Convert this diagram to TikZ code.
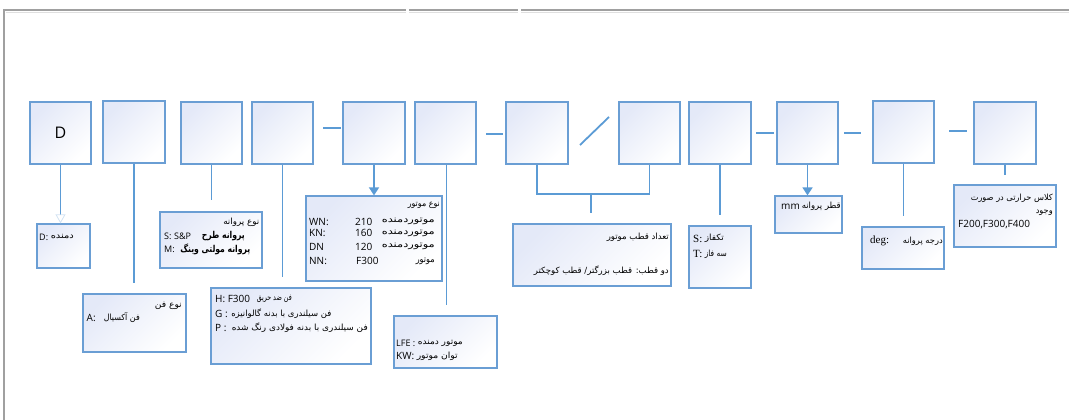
\documentclass[tikz,border=0pt]{standalone}
\usepackage{fontspec}
\setmainfont{Open Sans}
\newfontfamily\fafont[Script=Arabic]{DejaVu Sans}
\newfontfamily\serifL{Liberation Serif}
\TeXXeTstate=1
\usetikzlibrary{arrows.meta,calc}
\newcommand{\fw}[2]{\resizebox{#1pt}{\height}{#2}}
\definecolor{boxline}{RGB}{106,158,212}
\definecolor{connline}{RGB}{91,155,213}
\definecolor{boxfill}{RGB}{228,233,248}
\definecolor{framecol}{RGB}{160,160,160}
\tikzset{
  box/.style={draw=boxline, line width=1.3pt, top color=boxfill, bottom color=white, shading angle=45, inner sep=0},
  bx/.style 2 args={box, minimum width=#1, minimum height=#2},
  conn/.style={draw=connline, line width=1.8pt},
  lat/.style={inner sep=0, font=\fontsize{10}{11}\selectfont},
  lats/.style={inner sep=0, font=\fontsize{9}{10}\selectfont},
  ser/.style={inner sep=0, font=\serifL\fontsize{11}{12}\selectfont},
  fa/.style={inner sep=0, font=\fafont\fontsize{#1}{#1}\selectfont},
  fa/.default=8.5,
  fab/.style={inner sep=0, font=\fafont\bfseries\fontsize{9.5}{10}\selectfont},
}
\begin{document}
\begin{tikzpicture}[x=1pt,y=-1pt]
\useasboundingbox (0,0) rectangle (1069,420);
% frame
\draw[framecol, line width=1.2pt] (4,420) -- (4,10) -- (406,10);
\draw[framecol, line width=1.2pt] (409,10) -- (518,10);
\draw[framecol, line width=1.2pt] (521,10) -- (1069,10);
\draw[gray!25, line width=0.8pt] (6,12) -- (406,12) (409,12) -- (518,12) (521,12) -- (1069,12);
% code boxes
\node[bx={61pt}{62pt}, font=\fontsize{16}{17}\selectfont] (b1) at (60.5,133) {D};
\node[bx={62pt}{62pt}] (b2) at (134,132) {};
\node[bx={61pt}{62pt}] (b3) at (211.5,133) {};
\node[bx={61pt}{62pt}] (b4) at (282.5,133) {};
\node[bx={62pt}{62pt}] (b5) at (374,133) {};
\node[bx={61pt}{62pt}] (b6) at (445.5,133) {};
\node[bx={62pt}{62pt}] (b7) at (537,133) {};
\node[bx={61pt}{62pt}] (b8) at (649.5,133) {};
\node[bx={62pt}{62pt}] (b9) at (720,133) {};
\node[bx={61pt}{62pt}] (b10) at (807.5,133) {};
\node[bx={61pt}{62pt}] (b11) at (903.5,132) {};
\node[bx={62pt}{62pt}] (b12) at (1005,133) {};
% separators
\draw[conn] (323,128) -- (341,128);
\draw[conn] (486,134) -- (503,134);
\draw[conn] (580,145) -- (609,117);
\draw[conn] (756,133) -- (774,133);
\draw[conn] (844,133) -- (861,133);
\draw[conn] (949,131) -- (967,131);
% description boxes
\node[bx={53pt}{44pt}] (dD) at (63.5,246) {};
\node[bx={103pt}{58pt}] (fan) at (134.5,323) {};
\node[bx={102pt}{56pt}] (prop) at (211,240) {};
\node[bx={160pt}{76pt}] (hb) at (291,326) {};
\node[bx={136pt}{85pt}] (motor) at (374,238.5) {};
\node[bx={103pt}{52pt}] (lfe) at (445.5,342) {};
\node[bx={158pt}{62pt}] (pole) at (592,255) {};
\node[bx={62pt}{62pt}] (st) at (720,257) {};
\node[bx={67pt}{37pt}] (mmb) at (808.5,214.5) {};
\node[bx={82pt}{42pt}] (deg) at (903,248) {};
\node[bx={102pt}{62pt}] (cls) at (1005,216) {};
% connectors
\draw[conn, -{Triangle[open, width=10pt, length=9pt, line width=0.8pt, color=boxline!30]}] (b1.south) -- (b1.south |- dD.north);
\draw[conn] (b2.south) -- ($(b2.south |- fan.north)+(0,-10)$);
\draw[conn] (b3.south) -- ($(b3.south |- prop.north)+(0,-11)$);
\draw[conn] (b4.south) -- ($(b4.south |- hb.north)+(0,-10)$);
\draw[conn, -{Triangle[width=10pt, length=8pt]}] (b5.south) -- (motor.north);
\draw[conn] ($(b6.south)+(1,0)$) -- ($(b6.south |- lfe.north)+(1,-10)$);
\coordinate (brk) at (591,194);
\draw[conn] (b7.south) |- (brk) -| (b8.south);
\draw[conn] (brk) -- ($(brk |- pole.north)+(0,-10)$);
\draw[conn] (b9.south) -- ($(b9.south |- st.north)+(0,-10)$);
\draw[conn, -{Triangle[width=10pt, length=8pt]}] (b10.south) -- (b10.south |- mmb.north);
\draw[conn] (b11.south) -- ($(b11.south |- deg.north)+(0,-10)$);
\draw[conn] (b12.south) -- ($(b12.south |- cls.north)+(0,-9)$);
% texts: D box
\node[lats, anchor=west] (tD1) at (39,237) {D:};
\node[fa, anchor=east] (tD2) at (74,237) {\fw{23}{\beginR دمنده\endR}};
% fan
\node[fa, anchor=east] (tF1) at (182,306) {\fw{27}{\beginR نوع فن\endR}};
\node[lat, anchor=west] (tF2) at (86.5,318) {A:};
\node[fa, anchor=east] (tF3) at (140,318) {\fw{36}{\beginR فن آکسیال\endR}};
% propeller
\node[fa, anchor=east] (tP1) at (259.5,222) {\fw{36}{\beginR نوع پروانه\endR}};
\node[lats, anchor=west] (tP2) at (164,236) {S:};
\node[lats, anchor=west] (tP2b) at (174,236) {S\&P};
\node[fab, anchor=east] (tP3) at (245,236) {\fw{43}{\beginR پروانه طرح\endR}};
\node[lats, anchor=west] (tP4) at (164,249) {M:};
\node[fab, anchor=east] (tP5) at (250.5,249) {\fw{70}{\beginR پروانه مولتی وینگ\endR}};
% H box
\node[lat, anchor=west] (tH1) at (215,299) {H: F300};
\node[fa, anchor=east] (tH2) at (292,299) {\fw{35}{\beginR فن ضد حریق\endR}};
\node[lat, anchor=west] (tH3) at (215,314) {G :};
\node[fa, anchor=east] (tH4) at (331.5,314) {\fw{100}{\beginR فن سیلندری با بدنه گالوانیزه\endR}};
\node[lat, anchor=west] (tH5) at (215,328) {P :};
\node[fa, anchor=east] (tH6) at (368,328) {\fw{136}{\beginR فن سیلندری با بدنه فولادی رنگ شده\endR}};
% motor
\node[fa, anchor=east] (tM0) at (440,205.7) {\fw{32}{\beginR نوع موتور\endR}};
\node[lat, anchor=west] (tM1) at (309,221.7) {WN:};
\node[lat, anchor=west] (tM2) at (355,221.7) {210};
\node[fa=9, anchor=east] (tM3) at (435,221.7) {\fw{53}{\beginR موتوردمنده\endR}};
\node[lat, anchor=west] (tM4) at (309,233.3) {KN:};
\node[lat, anchor=west] (tM5) at (355,233.3) {160};
\node[fa=9, anchor=east] (tM6) at (435,233.3) {\fw{53}{\beginR موتوردمنده\endR}};
\node[lat, anchor=west] (tM7) at (309,246.5) {DN};
\node[lat, anchor=west] (tM8) at (355,246.5) {120};
\node[fa=9, anchor=east] (tM9) at (435,246.5) {\fw{53}{\beginR موتوردمنده\endR}};
\node[lat, anchor=west] (tM10) at (309,261) {NN:};
\node[lat, anchor=west] (tM11) at (356,261) {F300};
\node[fa=9, anchor=east] (tM12) at (435,261) {\fw{19}{\beginR موتور\endR}};
% LFE
\node[lats, anchor=west] (tL1) at (396,343) {LFE :};
\node[fa, anchor=east] (tL2) at (463,343) {\fw{45}{\beginR موتور دمنده\endR}};
\node[lat, anchor=west] (tL3) at (396,356) {KW:};
\node[fa, anchor=east] (tL4) at (458,356) {\fw{41}{\beginR توان موتور\endR}};
% pole
\node[fa, anchor=east] (tQ1) at (669,237.5) {\fw{62}{\beginR تعداد قطب موتور\endR}};
\node[fa, anchor=east] (tQ2) at (669,270.5) {\fw{135}{\beginR دو قطب: قطب بزرگتر/ قطب کوچکتر\endR}};
% S/T
\node[ser, anchor=west] (tS1) at (693,238.5) {S:};
\node[fa, anchor=east] (tS2) at (724,238.5) {\fw{19}{\beginR تکفاز\endR}};
\node[ser, anchor=west] (tS3) at (693,254) {T:};
\node[fa, anchor=east] (tS4) at (727,254) {\fw{22}{\beginR سه فاز\endR}};
% mm
\node[lat, anchor=west] (tm1) at (781,206.7) {mm};
\node[fa, anchor=east] (tm2) at (841,206.7) {\fw{39}{\beginR قطر پروانه\endR}};
% deg
\node[ser, anchor=west] (tg1) at (870,241) {deg:};
\node[fa, anchor=east] (tg2) at (943,241) {\fw{40}{\beginR درجه پروانه\endR}};
% class
\node[fa, anchor=east] (tc1) at (1053,198.3) {\fw{82}{\beginR کلاس حرارتی در صورت\endR}};
\node[fa, anchor=east] (tc2) at (1053,212.7) {\fw{17}{\beginR وجود\endR}};
\node[lat, anchor=west] (tc3) at (958,224.3) {F200,F300,F400};
\end{tikzpicture}
\end{document}
